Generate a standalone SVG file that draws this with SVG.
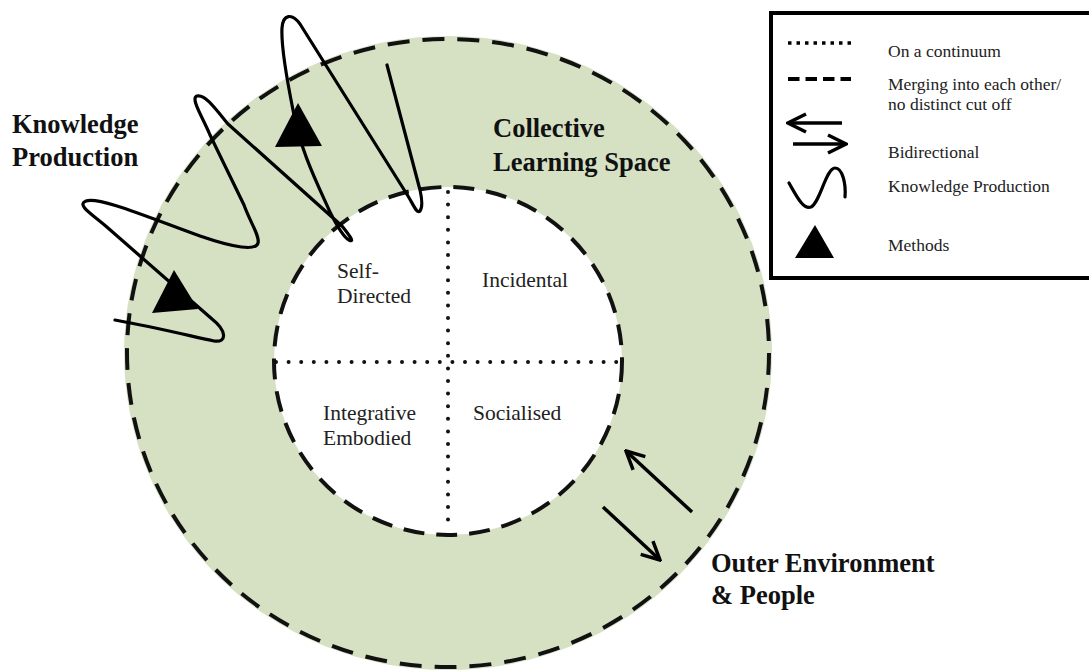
<svg xmlns="http://www.w3.org/2000/svg" width="1089" height="670" viewBox="0 0 1089 670">
  <style>
    text { font-family: 'Liberation Serif', 'DejaVu Serif', 'Times New Roman', serif; }
    .lbl { font-size: 21.5px; fill: #222; }
    .big { font-size: 26.5px; font-weight: bold; fill: #111; }
    .leg { font-size: 17.5px; fill: #222; }
    .dash { fill: none; stroke: #111; stroke-width: 4; stroke-dasharray: 22 13; }
    .dot { fill: none; stroke: #111; stroke-width: 4; stroke-linecap: round; stroke-dasharray: 0 12.6; }
    .line { fill: none; stroke: #000; stroke-width: 3.2; stroke-linecap: round; stroke-linejoin: round; }
    .arrow { fill: none; stroke: #000; stroke-width: 3.5; }
  </style>
  <defs>
    <marker id="head" viewBox="0 0 22 22" refX="20" refY="11" markerWidth="22" markerHeight="22" markerUnits="userSpaceOnUse" orient="auto">
      <path d="M2,2 L20,11 L2,20" fill="none" stroke="#000" stroke-width="3.5" stroke-linejoin="miter"/>
    </marker>
  </defs>
  <rect width="1089" height="670" fill="#ffffff"/>

  <g id="collective-learning-space">
    <ellipse cx="448" cy="353" rx="324" ry="317" fill="#d6e1c4"/>
    <ellipse class="dash" cx="448" cy="353" rx="321" ry="314"/>
    <text class="big" x="493" y="137" font-family="Liberation Serif, serif">Collective</text>
    <text class="big" x="493" y="171" font-family="Liberation Serif, serif">Learning Space</text>
  </g>

  <g id="inner-circle">
    <circle cx="448" cy="361" r="174" fill="#ffffff"/>
    <circle class="dash" cx="448" cy="361" r="174" style="stroke-dasharray: 21 12"/>
    <line class="dot" x1="448" y1="192" x2="448" y2="532"/>
    <line class="dot" x1="276" y1="362" x2="621" y2="362"/>
  </g>

  <g id="self-directed">
    <text class="lbl" x="337" y="278">Self-</text>
    <text class="lbl" x="337" y="303">Directed</text>
  </g>
  <g id="incidental">
    <text class="lbl" x="482" y="287">Incidental</text>
  </g>
  <g id="integrative-embodied">
    <text class="lbl" x="323" y="420">Integrative</text>
    <text class="lbl" x="323" y="445">Embodied</text>
  </g>
  <g id="socialised">
    <text class="lbl" x="473" y="420">Socialised</text>
  </g>

  <g id="knowledge-production">
    <text class="big" x="12" y="133">Knowledge</text>
    <text class="big" x="12" y="166">Production</text>
    <path class="line" d="M115,320 C160,328 198,338 214,341 C228,343 226,330 212,319 L108,228 C92,214 76,205 86,201 C98,196 150,218 200,236 C235,248 256,251 258,243 C260,236 250,222 244,205 L210,135 C203,118 190,98 197,96 C205,94 215,108 228,124 L342,226 C350,236 355,243 349,240 C343,237 337,226 330,212 C318,185 300,150 293,110 C287,80 281,45 282,28 C283,14 292,13 300,24 L408,196 C414,206 417,214 420,211 C423,207 422,199 420,190 L387,65"/>
    <polygon points="174,270 152,313 198,309" fill="#000"/>
    <polygon points="298,103 275,147 322,146" fill="#000"/>
  </g>

  <g id="outer-environment">
    <text class="big" x="711" y="572">Outer Environment</text>
    <text class="big" x="711" y="604">&amp; People</text>
  </g>

  <g id="connectors">
    <line class="arrow" x1="692" y1="512" x2="626" y2="451" marker-end="url(#head)"/>
    <line class="arrow" x1="603" y1="507" x2="660" y2="560" marker-end="url(#head)"/>
  </g>

  <g id="legend">
    <rect x="771" y="13" width="340" height="265" fill="#ffffff" stroke="#000" stroke-width="4"/>
    <line x1="788" y1="43" x2="851" y2="43" stroke="#000" stroke-width="3.5" stroke-dasharray="3.5 5"/>
    <text class="leg" x="888" y="57">On a continuum</text>
    <line x1="788" y1="79" x2="851" y2="79" stroke="#000" stroke-width="4" stroke-dasharray="11.5 6"/>
    <text class="leg" x="888" y="90">Merging into each other/</text>
    <text class="leg" x="888" y="110">no distinct cut off</text>
    <line class="arrow" x1="842" y1="123" x2="788" y2="123" marker-end="url(#head)"/>
    <line class="arrow" x1="793" y1="144" x2="846" y2="144" marker-end="url(#head)"/>
    <text class="leg" x="888" y="158">Bidirectional</text>
    <path class="line" d="M789,183 C796,195 803,210 811,207 C820,203 826,168 835,168 C843,168 846,185 845,197"/>
    <text class="leg" x="888" y="192">Knowledge Production</text>
    <polygon points="815,225 795,258 834,258" fill="#000"/>
    <text class="leg" x="888" y="251">Methods</text>
  </g>
</svg>
